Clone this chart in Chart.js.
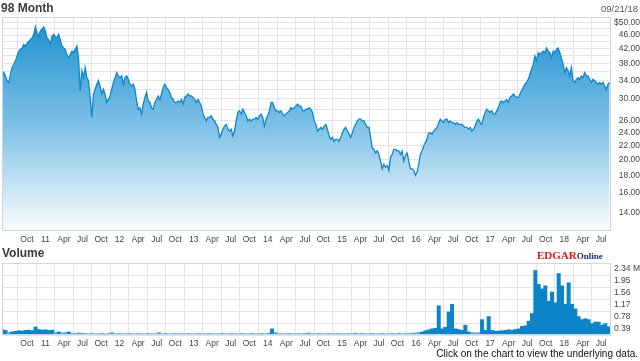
<!DOCTYPE html>
<html>
<head>
<meta charset="utf-8">
<script src="https://cdn.jsdelivr.net/npm/chart.js@4.4.1/dist/chart.umd.min.js"></script>
<style>
html,body{margin:0;padding:0;background:#fff;}
#wrap{position:relative;width:640px;height:361px;overflow:hidden;font-family:"Liberation Sans",Arial,sans-serif;}
canvas{position:absolute;left:0;}
.t{position:absolute;white-space:nowrap;line-height:1;}
</style>
</head>
<body>
<div id="wrap">
  <canvas id="priceChart" width="640" height="250" style="top:0"></canvas>
  <canvas id="volChart" width="640" height="106" style="top:255px"></canvas>
  <div class="t" style="left:1px;top:2px;font-size:12px;font-weight:bold;color:#3c3c3c">98 Month</div>
  <div class="t" style="right:2px;top:4px;font-size:9.5px;color:#555">09/21/18</div>
  <div class="t" style="left:2px;top:247px;font-size:12px;font-weight:bold;color:#3c3c3c">Volume</div>
  <div class="t" style="left:537px;top:246px;font-family:'Liberation Serif',serif;font-weight:bold;"><span style="font-size:11px;color:#e2141b">EDGAR</span><span style="font-size:9px;color:#1d2d6e">Online</span></div>
  <div class="t" style="right:2px;top:349px;font-size:10px;color:#111">Click on the chart to view the underlying data.</div>
</div>
<script>
// Time is measured in months counted from Jan 2010 (0 = Jan 2010).
const priceFirstMonth = 6.5;    // mid Jul 2010
const priceLastMonth = 104.85;  // 09/21/18

const price2010to2012 = [
  34.6,35.8,35.0,33.9,33.5,35.4,37.0,37.8,38.7,40.0,41.3,41.8,42.2,43.2,42.7,43.6,44.1,44.6,45.1,46.2,
  48.6,46.7,45.6,47.3,47.8,48.6,47.3,45.1,44.6,43.2,45.6,46.2,45.6,45.1,46.2,44.6,42.7,42.2,41.8,40.4,
  39.5,40.4,41.3,40.9,41.8,42.7,39.5,31.7,36.2,34.6,37.0,34.6,33.9,30.3,26.5,31.0,32.0,33.1,33.9,32.7,
  31.0,32.0,31.0,29.3,29.9,30.6,32.0,33.5,34.6,35.8,35.0,34.6,35.0,33.1,34.6,35.0,34.2,33.1,32.7,33.1,
  32.0,29.6,28.0,28.3,27.1,29.0,30.3,31.3,29.6,29.3,28.3,28.0,29.3,29.9,30.6,29.9
];
const price2012to2014 = [
  31.0,32.4,33.1,32.4,32.0,31.3,30.3,29.9,29.3,29.3,29.6,29.3,29.9,29.0,30.3,30.6,31.0,30.6,30.6,30.3,
  29.9,29.3,29.9,29.3,28.6,27.1,26.5,25.9,26.5,26.5,26.8,26.2,25.9,25.3,24.8,23.2,23.7,24.5,25.0,25.3,
  24.5,24.2,24.5,23.4,24.2,25.9,27.4,27.7,27.1,28.0,27.4,26.8,25.9,26.2,25.9,26.2,26.2,26.5,26.2,26.8,
  27.1,26.5,25.0,26.2,26.8,27.7,29.3,29.3,28.3,27.7,27.7,27.4,27.7,27.1,26.8,27.1,27.4,27.7,28.3,28.0,
  28.3,28.6,29.0,28.6,28.6,27.7,27.7,28.0,28.0,28.3,28.0,27.4,25.9,25.3
];
const price2015to2016 = [
  24.2,24.5,24.8,24.5,25.0,25.3,24.5,23.4,22.9,23.2,22.6,22.9,22.9,22.6,23.2,23.9,24.5,24.8,24.2,23.7,
  23.2,23.9,24.8,25.3,25.9,26.2,26.2,25.9,25.9,25.3,24.8,24.8,23.2,21.6,21.4,20.9,21.2,20.7,19.8,18.8,
  19.4,19.0,19.2,18.6,20.3,20.7,21.4,21.4,21.2,21.2,20.7,21.2,19.8,20.5,20.9,19.8,18.8,18.8,18.6,18.0,
  18.4,19.4,20.7,21.2,21.9,22.4,22.9,23.9,23.9,23.7,24.2,24.5,24.8,25.6,26.2,25.9,25.6,26.2,26.2,25.6,
  25.9,25.6,25.6,25.3,25.6,25.3,25.3,25.3,25.0,24.8,24.8,24.5,24.8
];
const price2017to2018 = [
  24.2,24.5,25.0,25.9,26.2,25.6,25.3,26.5,27.4,28.0,27.7,27.4,27.7,27.1,27.1,27.7,28.3,29.3,29.6,29.3,
  29.6,29.9,29.3,30.3,30.6,31.0,30.6,30.3,30.3,31.0,31.7,32.4,33.1,33.5,34.2,35.4,36.6,37.8,40.0,38.7,
  40.9,40.4,40.9,41.3,40.9,42.2,41.3,40.9,39.5,41.3,40.9,41.8,42.2,40.9,39.5,37.8,35.8,37.0,36.2,35.0,
  37.0,33.9,33.5,34.2,34.6,34.2,35.0,34.6,35.8,35.0,35.0,34.2,33.5,34.2,33.9,33.5,33.1,33.5,33.1,33.5,
  32.7,32.0,33.1,33.5
];
const priceValues = [...price2010to2012, ...price2012to2014, ...price2015to2016, ...price2017to2018];

// Daily volume (millions of shares), sampled evenly in time
const volFirstMonth = 6.5;
const volLastMonth = 104.7;
const volume2010to2012 = [
  0.18,0.15,0.08,0.10,0.12,0.14,0.13,0.15,0.16,0.14,0.26,0.18,0.16,0.17,0.15,0.16,0.08,0.10,0.07,0.08,
  0.10,0.05,0.05,0.07,0.06,0.05,0.04,0.05,0.04,0.04,0.05,0.04,0.05,0.08,0.04,0.05,0.04,0.04,0.05,0.04,
  0.04,0.05,0.04,0.04,0.05,0.04,0.04,0.08,0.04,0.05
];
const volume2013to2015 = [
  0.04,0.04,0.05,0.04,0.04,0.04,0.05,0.04,0.04,0.05,0.04,0.04,0.05,0.04,0.04,0.04,0.05,0.04,0.04,0.05,
  0.04,0.04,0.05,0.04,0.04,0.05,0.04,0.04,0.05,0.04,0.06,0.20,0.08,0.05,0.04,0.04,0.05,0.04,0.04,0.05,
  0.04,0.05,0.07,0.04,0.04,0.05,0.04,0.04,0.05,0.04
];
const volume2016to2018 = [
  0.04,0.05,0.04,0.04,0.05,0.04,0.06,0.04,0.05,0.04,0.04,0.05,0.04,0.04,0.05,0.04,0.04,0.05,0.04,0.06,
  0.04,0.05,0.05,0.06,0.07,0.08,0.10,0.14,0.17,0.20,0.22,0.95,0.20,0.25,0.75,1.00,0.20,0.18,0.15,0.32,
  0.10,0.08,0.07,0.08,0.50,0.15,0.60,0.15,0.12,0.13,0.14,0.15,0.17,0.15,0.18,0.20,0.28,0.30,0.45,0.70,
  2.10,1.65,1.50,1.60,1.10,1.40,1.05,2.00,1.60,1.00,1.70,1.00,0.85,0.60,0.50,0.53,0.50,0.37,0.42,0.42,
  0.32,0.37,0.27
];
const volumeValues = [...volume2010to2012, ...volume2013to2015, ...volume2016to2018];

// Axis ticks
const quarterMonths = [9,12,15,18,21,24,27,30,33,36,39,42,45,48,51,54,57,60,63,66,69,72,75,78,81,84,87,90,93,96,99,102];
const quarterLabels = ["Oct","11","Apr","Jul","Oct","12","Apr","Jul","Oct","13","Apr","Jul","Oct","14","Apr","Jul",
                       "Oct","15","Apr","Jul","Oct","16","Apr","Jul","Oct","17","Apr","Jul","Oct","18","Apr","Jul"];
const priceGridValues = [14,16,18,20,22,24,26,28,30,32,34,36,38,40,42,44,46,48,50];
const priceLabelValues = [14,16,18,20,22,24,26,30,34,38,42,46,50];
const volumeTicks = [0,0.39,0.78,1.17,1.56,1.95,2.34];

Chart.defaults.font.family = '"Liberation Sans", Arial, sans-serif';
Chart.defaults.font.size = 8.5;
Chart.defaults.color = '#444';

const GRID = '#e1e5eb';
const boxPlugin = {
  id: 'box',
  afterDatasetsDraw(chart) {
    const {ctx, chartArea: a} = chart;
    ctx.save();
    ctx.strokeStyle = '#d0d5dc';
    ctx.lineWidth = 1;
    ctx.strokeRect(a.left + 0.5, a.top + 0.5, a.right - a.left - 1, a.bottom - a.top - 1);
    ctx.restore();
  }
};

function xScale(height) {
  return {
    type: 'linear', min: 6.47, max: 105.08, offset: false,
    afterBuildTicks: s => { s.ticks = quarterMonths.map(v => ({value: v})); },
    afterFit: s => { s.height = height; },
    grid: {color: GRID, lineWidth: 1, drawTicks: false, offset: false},
    border: {display: false},
    ticks: {
      autoSkip: false, maxRotation: 0, minRotation: 0, padding: 4, labelOffset: 9.3, color: '#444',
      callback: v => { const i = quarterMonths.indexOf(v); return i >= 0 ? quarterLabels[i] : ''; }
    }
  };
}

const pricePoints = priceValues.map((v, i) => ({
  x: priceFirstMonth + i * (priceLastMonth - priceFirstMonth) / (priceValues.length - 1), y: v
}));

new Chart(document.getElementById('priceChart'), {
  type: 'line',
  data: {datasets: [{
    data: pricePoints,
    borderColor: '#1087cb', borderWidth: 1.3, pointRadius: 0, tension: 0, fill: 'start',
    backgroundColor: (c) => {
      const ch = c.chart, a = ch.chartArea;
      if (!a) return 'rgba(31,144,208,0.5)';
      const g = ch.ctx.createLinearGradient(0, a.top, 0, a.bottom);
      g.addColorStop(0, '#1b8ecf');
      g.addColorStop(0.5, '#7cc0e6');
      g.addColorStop(1, '#fbfdff');
      return g;
    }
  }]},
  options: {
    responsive: false, animation: false, events: [],
    layout: {padding: {left: 2, top: 17, right: 0, bottom: 0}},
    plugins: {legend: {display: false}, tooltip: {enabled: false}},
    scales: {
      x: xScale(19),
      y: {
        type: 'logarithmic', position: 'right', min: 12.4, max: 51.9,
        afterBuildTicks: s => { s.ticks = priceGridValues.map(v => ({value: v})); },
        afterFit: s => { s.width = 29; },
        grid: {color: GRID, lineWidth: 1, drawTicks: false},
        border: {display: false},
        ticks: {
          autoSkip: false, crossAlign: 'far', padding: 1, color: '#444',
          callback: v => priceLabelValues.includes(v) ? (v === 50 ? '$50.00' : v.toFixed(2)) : ''
        }
      }
    }
  },
  plugins: [boxPlugin]
});

const volPoints = volumeValues.map((v, i) => ({
  x: volFirstMonth + i * (volLastMonth - volFirstMonth) / (volumeValues.length - 1), y: v
}));

new Chart(document.getElementById('volChart'), {
  type: 'bar',
  data: {datasets: [{
    data: volPoints,
    backgroundColor: (c) => (c.raw && c.raw.y <= 0.08) ? '#56ace0' : '#0c84c8',
    borderWidth: 0, barPercentage: 1, categoryPercentage: 1
  }]},
  options: {
    responsive: false, animation: false, events: [],
    layout: {padding: {left: 2, top: 6, right: 0, bottom: 0}},
    plugins: {legend: {display: false}, tooltip: {enabled: false}},
    scales: {
      x: xScale(26),
      y: {
        type: 'linear', position: 'right', min: 0, max: 2.34,
        afterBuildTicks: s => { s.ticks = volumeTicks.map(v => ({value: v})); },
        afterFit: s => { s.width = 29; },
        grid: {color: GRID, lineWidth: 1, drawTicks: false},
        border: {display: false},
        ticks: {
          autoSkip: false, crossAlign: 'near', padding: 3, labelOffset: 5.5, color: '#444',
          callback: v => v === 0 ? '' : (v === 2.34 ? '2.34 M' : v.toFixed(2))
        }
      }
    }
  },
  plugins: [boxPlugin]
});
</script>
</body>
</html>
